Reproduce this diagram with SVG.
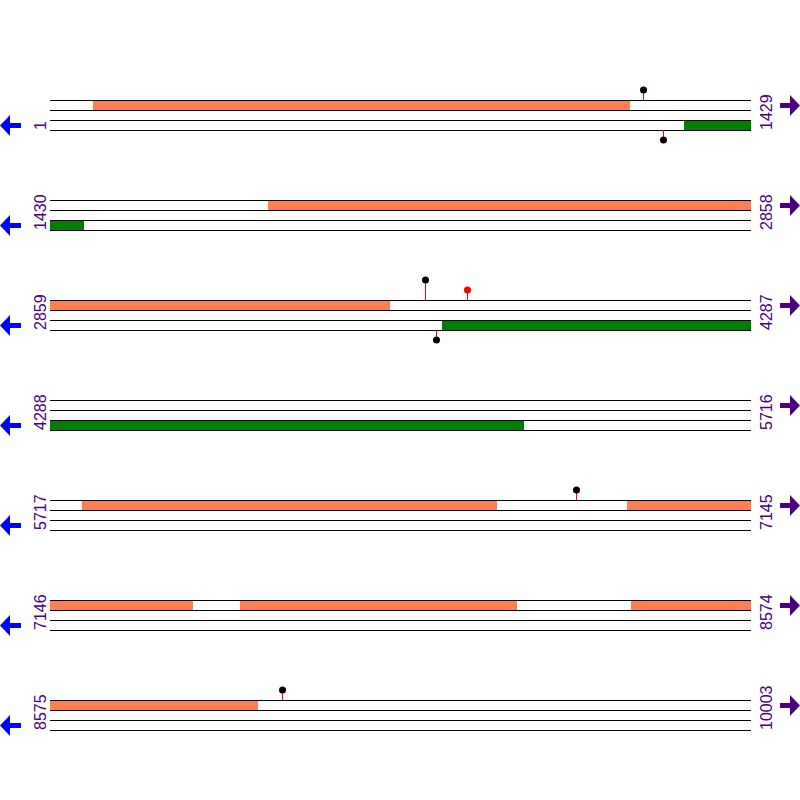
<svg xmlns="http://www.w3.org/2000/svg" width="800" height="800" viewBox="0 0 800 800">
<style>
.ln{stroke:#000;stroke-width:1;fill:none}
.or{fill:#ff7f50}
.gr{fill:#008000}
.la{fill:#0000ff}
.ra{fill:#4b0082}
.lbl{font-family:"Liberation Sans",Arial,sans-serif;font-size:16px;fill:#4b0082}
.st{stroke:#ff0000;stroke-width:1}
.hb{fill:#000}
.hr{fill:#ff0000}
</style>
<defs>
<polygon id="larr" points="0,0 10,-10.5 10,-2.5 21,-2.5 21,2.5 10,2.5 10,10.5"/>
<polygon id="rarr" points="20,0 10,-10.5 10,-2.5 0,-2.5 0,2.5 10,2.5 10,10.5"/>
<g id="lines4">
<line class="ln" x1="50" y1="0.5" x2="751" y2="0.5"/>
<line class="ln" x1="50" y1="10.5" x2="751" y2="10.5"/>
<line class="ln" x1="50" y1="20.5" x2="751" y2="20.5"/>
<line class="ln" x1="50" y1="30.5" x2="751" y2="30.5"/>
</g>
</defs>
<g id="row1" transform="translate(0,100)">
<rect class="or" x="93" y="0" width="537" height="10"/>
<rect class="gr" x="684" y="20" width="67" height="10"/>
<use href="#lines4"/>
<use href="#larr" class="la" x="0" y="25.5"/>
<use href="#rarr" class="ra" x="780" y="5.5"/>
<text class="lbl" transform="translate(46,30) rotate(-90)">1</text>
<text class="lbl" transform="translate(772,30) rotate(-90)">1429</text>
<line class="st" x1="643.5" y1="0" x2="643.5" y2="-10"/>
<circle class="hb" cx="643.5" cy="-10" r="3.5"/>
<line class="st" x1="663.5" y1="30" x2="663.5" y2="40"/>
<circle class="hb" cx="663.5" cy="40" r="3.5"/>
</g>
<g id="row2" transform="translate(0,200)">
<rect class="or" x="268" y="0" width="483" height="10"/>
<rect class="gr" x="50" y="20" width="34" height="10"/>
<use href="#lines4"/>
<use href="#larr" class="la" x="0" y="25.5"/>
<use href="#rarr" class="ra" x="780" y="5.5"/>
<text class="lbl" transform="translate(46,30) rotate(-90)">1430</text>
<text class="lbl" transform="translate(772,30) rotate(-90)">2858</text>
</g>
<g id="row3" transform="translate(0,300)">
<rect class="or" x="50" y="0" width="340" height="10"/>
<rect class="gr" x="442" y="20" width="309" height="10"/>
<use href="#lines4"/>
<use href="#larr" class="la" x="0" y="25.5"/>
<use href="#rarr" class="ra" x="780" y="5.5"/>
<text class="lbl" transform="translate(46,30) rotate(-90)">2859</text>
<text class="lbl" transform="translate(772,30) rotate(-90)">4287</text>
<line class="st" x1="425.5" y1="0" x2="425.5" y2="-20"/>
<circle class="hb" cx="425.5" cy="-20" r="3.5"/>
<line class="st" x1="467.5" y1="0" x2="467.5" y2="-10"/>
<circle class="hr" cx="467.5" cy="-10" r="3.5"/>
<line class="st" x1="436.5" y1="30" x2="436.5" y2="40"/>
<circle class="hb" cx="436.5" cy="40" r="3.5"/>
</g>
<g id="row4" transform="translate(0,400)">
<rect class="gr" x="50" y="20" width="474" height="10"/>
<use href="#lines4"/>
<use href="#larr" class="la" x="0" y="25.5"/>
<use href="#rarr" class="ra" x="780" y="5.5"/>
<text class="lbl" transform="translate(46,30) rotate(-90)">4288</text>
<text class="lbl" transform="translate(772,30) rotate(-90)">5716</text>
</g>
<g id="row5" transform="translate(0,500)">
<rect class="or" x="82" y="0" width="415" height="10"/>
<rect class="or" x="627" y="0" width="124" height="10"/>
<use href="#lines4"/>
<use href="#larr" class="la" x="0" y="25.5"/>
<use href="#rarr" class="ra" x="780" y="5.5"/>
<text class="lbl" transform="translate(46,30) rotate(-90)">5717</text>
<text class="lbl" transform="translate(772,30) rotate(-90)">7145</text>
<line class="st" x1="576.5" y1="0" x2="576.5" y2="-10"/>
<circle class="hb" cx="576.5" cy="-10" r="3.5"/>
</g>
<g id="row6" transform="translate(0,600)">
<rect class="or" x="50" y="0" width="143" height="10"/>
<rect class="or" x="240" y="0" width="277" height="10"/>
<rect class="or" x="631" y="0" width="120" height="10"/>
<use href="#lines4"/>
<use href="#larr" class="la" x="0" y="25.5"/>
<use href="#rarr" class="ra" x="780" y="5.5"/>
<text class="lbl" transform="translate(46,30) rotate(-90)">7146</text>
<text class="lbl" transform="translate(772,30) rotate(-90)">8574</text>
</g>
<g id="row7" transform="translate(0,700)">
<rect class="or" x="50" y="0" width="208" height="10"/>
<use href="#lines4"/>
<use href="#larr" class="la" x="0" y="25.5"/>
<use href="#rarr" class="ra" x="780" y="5.5"/>
<text class="lbl" transform="translate(46,30) rotate(-90)">8575</text>
<text class="lbl" transform="translate(772,30) rotate(-90)">10003</text>
<line class="st" x1="282.5" y1="0" x2="282.5" y2="-10"/>
<circle class="hb" cx="282.5" cy="-10" r="3.5"/>
</g>
</svg>
